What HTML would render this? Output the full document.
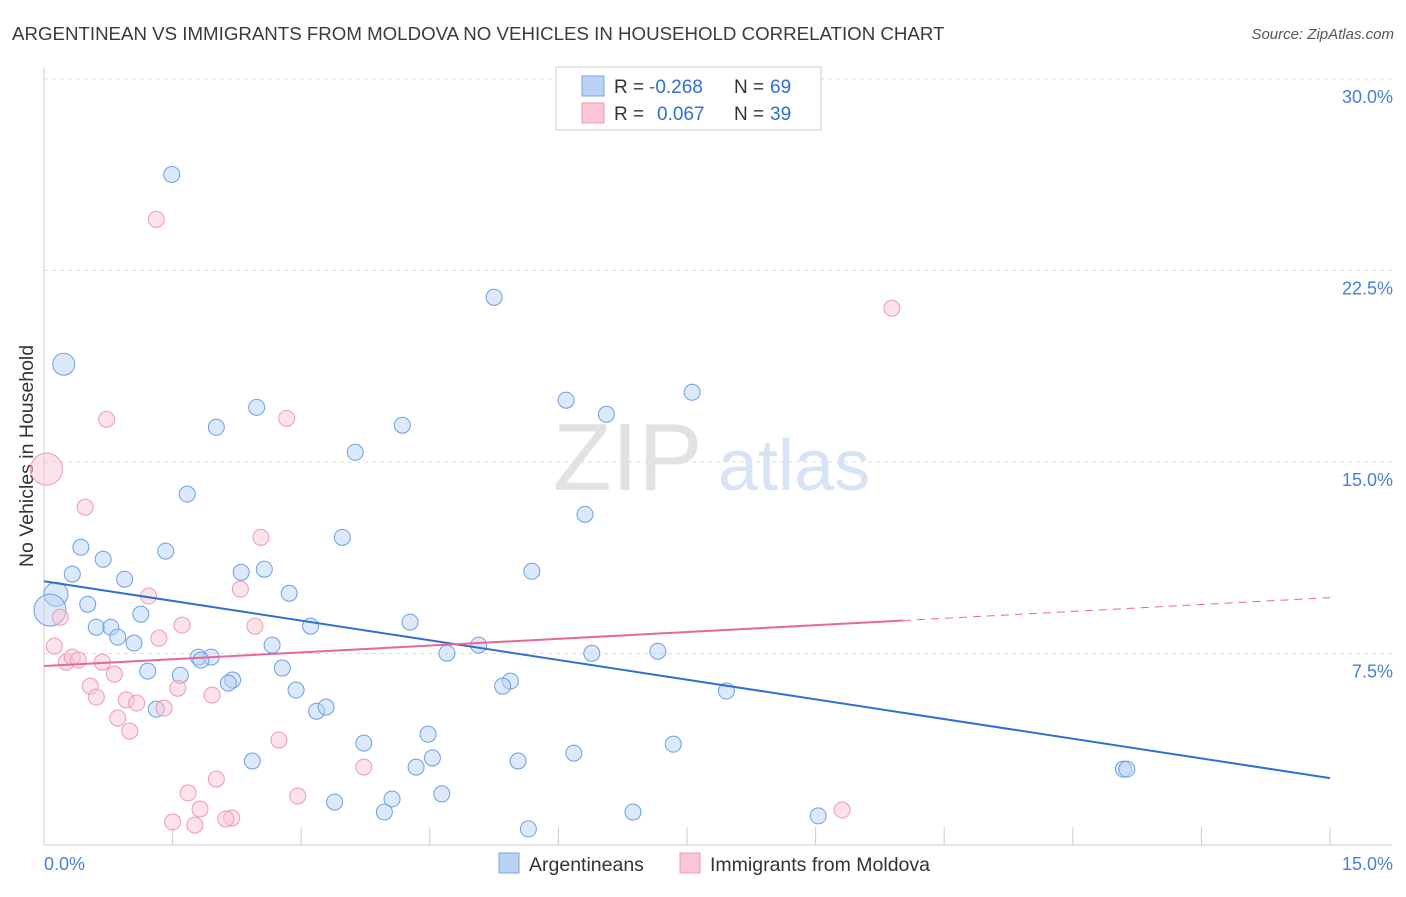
<!DOCTYPE html>
<html><head><meta charset="utf-8">
<style>
body{margin:0;background:#fff;font-family:"Liberation Sans",sans-serif;}
svg text{font-family:"Liberation Sans",sans-serif;}
</style></head>
<body>
<svg id="chart" width="1406" height="892" xmlns="http://www.w3.org/2000/svg">
<text x="12" y="40" font-size="18.7" fill="#3a3a3a">ARGENTINEAN VS IMMIGRANTS FROM MOLDOVA NO VEHICLES IN HOUSEHOLD CORRELATION CHART</text>
<text x="1394" y="39" font-size="15" fill="#555" text-anchor="end" font-style="italic">Source: ZipAtlas.com</text>
<g id="grid"></g>
<g>
<text x="553" y="490" font-size="96" fill="#e2e2e2" font-family="Liberation Serif">ZIP</text>
<text x="718" y="490" font-size="72" fill="#d6e4f5">atlas</text>
</g>
<text transform="translate(33,456) rotate(-90)" font-size="19.5" fill="#333" text-anchor="middle">No Vehicles in Household</text>
<g id="marks"></g>
<g>
<rect x="556" y="67" width="265" height="63" fill="#fff" stroke="#ccc"/>
<rect x="582" y="76" width="22" height="20" fill="#b9d3f5" stroke="#7aa5e0"/>
<rect x="582" y="103" width="22" height="20" fill="#fac5d4" stroke="#f09ab4"/>
<text x="614" y="93" font-size="19" fill="#333">R =</text>
<text x="649" y="93" font-size="19" fill="#2f6fd1">-0.268</text>
<text x="734" y="93" font-size="19" fill="#333">N =</text>
<text x="770" y="93" font-size="19" fill="#2f6fd1">69</text>
<text x="614" y="120" font-size="19" fill="#333">R =</text>
<text x="657" y="120" font-size="19" fill="#2f6fd1">0.067</text>
<text x="734" y="120" font-size="19" fill="#333">N =</text>
<text x="770" y="120" font-size="19" fill="#2f6fd1">39</text>
</g>
<g>
<rect x="499" y="853" width="20" height="20" fill="#b9d3f5" stroke="#7aa5e0"/>
<text x="529" y="871" font-size="19.5" fill="#333">Argentineans</text>
<rect x="680" y="853" width="20" height="20" fill="#fac5d4" stroke="#f09ab4"/>
<text x="710" y="871" font-size="19.5" fill="#333">Immigrants from Moldova</text>
</g>
</svg>
<script>
const xTicks=[0,1.5,3,4.5,6,7.5,9,10.5,12,13.5,15];
const yTicks=[7.5,15,22.5,30];
const yTickLabels=["7.5%","15.0%","22.5%","30.0%"];
const xTickLabels=["0.0%","15.0%"];
const blueX=[1.49,0.23,5.25,7.56,6.09,6.56,2.48,2.01,4.18,3.63,1.67,6.31,3.48,0.43,1.42,0.69,0.33,5.69,2.30,2.57,0.94,0.14,0.07,2.86,0.51,1.13,4.27,0.61,0.78,3.11,0.86,1.05,2.66,5.07,4.70,6.39,7.16,1.80,1.95,1.83,2.78,1.21,1.59,2.20,2.15,5.44,5.35,2.94,7.96,1.31,3.18,3.29,4.48,3.73,7.34,6.18,2.43,5.53,4.53,4.34,12.59,12.63,4.64,3.39,4.06,3.97,6.87,9.03,5.65];
const blueY=[26.26,18.83,21.45,17.73,17.42,16.87,17.14,16.36,16.44,15.38,13.74,12.95,12.05,11.66,11.51,11.19,10.61,10.72,10.68,10.80,10.41,9.82,9.20,9.86,9.43,9.04,8.73,8.53,8.53,8.57,8.14,7.91,7.83,7.83,7.51,7.51,7.59,7.36,7.36,7.24,6.93,6.81,6.65,6.46,6.34,6.42,6.22,6.07,6.03,5.32,5.24,5.40,4.34,3.99,3.95,3.60,3.29,3.29,3.41,3.05,2.97,2.97,2.00,1.68,1.80,1.29,1.29,1.14,0.63];
const blueBig=[[1,11],[21,12],[22,16]];
const pinkX=[1.31,9.89,0.73,2.83,0.03,0.48,2.53,2.29,1.22,1.61,2.46,1.34,0.19,0.12,0.26,0.33,0.40,0.68,0.82,0.54,1.56,0.61,1.96,0.96,1.08,1.40,0.86,1.00,2.74,3.73,2.01,1.68,2.96,1.82,9.31,1.50,1.76,2.19,2.12];
const pinkY=[24.50,21.02,16.67,16.71,14.72,13.23,12.05,10.02,9.75,8.61,8.57,8.10,8.92,7.79,7.16,7.36,7.24,7.16,6.69,6.22,6.14,5.79,5.87,5.68,5.56,5.36,4.97,4.46,4.11,3.05,2.58,2.04,1.92,1.41,1.37,0.90,0.78,1.06,1.02];
const pinkBig=[[4,16]];
const blueTrend=[[0,10.33],[15,2.62]];
const pinkTrend=[[0,7.01],[10.02,8.79],[15,9.69]];

const NS="http://www.w3.org/2000/svg";
const X0=44,X1=1330,Y0=845,YTOP=79;
const sx=v=>X0+(X1-X0)*v/15;
const sy=v=>Y0-(Y0-YTOP)*v/30;
function mk(tag,attrs,parent){const e=document.createElementNS(NS,tag);for(const k in attrs)e.setAttribute(k,attrs[k]);parent.appendChild(e);return e;}
const grid=document.getElementById('grid');
const marks=document.getElementById('marks');
yTicks.forEach((t,i)=>{
 const l=mk('line',{x1:X0,x2:1392,y1:sy(t),y2:sy(t),stroke:'#ddd','stroke-dasharray':'4,4'},grid);
 
 
 const tx=mk('text',{x:1393,y:sy(t)+24,'font-size':18,fill:'#4a7fd4','text-anchor':'end'},grid);
 tx.textContent=yTickLabels[i];
 
 
});
const ax=mk('line',{x1:X0,x2:X0,y1:68,y2:Y0,stroke:'#ccc'},grid);


const bx=mk('line',{x1:X0,x2:1392,y1:Y0,y2:Y0,stroke:'#ccc'},grid);


xTicks.forEach(t=>{
 const l=mk('line',{x1:sx(t),x2:sx(t),y1:Y0,y2:Y0-18,stroke:'#ccc'},grid);
 
 
});
const xl0=mk('text',{x:44,y:870,'font-size':18,fill:'#4a7fd4'},grid);xl0.textContent=xTickLabels[0];


const xl1=mk('text',{x:1393,y:870,'font-size':18,fill:'#4a7fd4','text-anchor':'end'},grid);xl1.textContent=xTickLabels[1];



function pts(xs,ys,big,fill,stroke,name){
 const r=xs.map(()=>8);big.forEach(([i,s])=>r[i]=s);
 xs.forEach((x,i)=>{
  const c=mk('circle',{cx:sx(x),cy:sy(ys[i]),r:r[i],fill:fill,'fill-opacity':0.5,stroke:stroke,'stroke-width':1},marks);
  
  
 });
}
pts(blueX,blueY,blueBig,'#b9d3f5','#6f9fe0','argentinean-point');
pts(pinkX,pinkY,pinkBig,'#fac5d4','#f09ab4','moldova-point');
const bl=mk('line',{x1:sx(blueTrend[0][0]),y1:sy(blueTrend[0][1]),x2:sx(blueTrend[1][0]),y2:sy(blueTrend[1][1]),stroke:'#2f6fd1','stroke-width':2},marks);


const pl=mk('line',{x1:sx(pinkTrend[0][0]),y1:sy(pinkTrend[0][1]),x2:sx(pinkTrend[1][0]),y2:sy(pinkTrend[1][1]),stroke:'#e8679a','stroke-width':2},marks);


const pd=mk('line',{x1:sx(pinkTrend[1][0]),y1:sy(pinkTrend[1][1]),x2:sx(pinkTrend[2][0]),y2:sy(pinkTrend[2][1]),stroke:'#e8679a','stroke-width':1,'stroke-dasharray':'8,6'},marks);


</script>
</body></html>
